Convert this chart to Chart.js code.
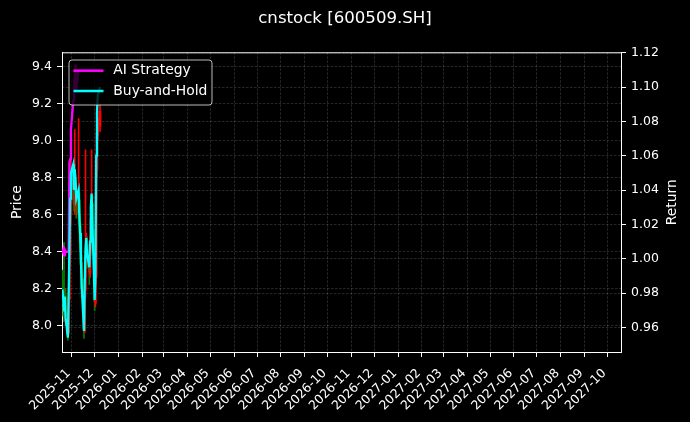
<!DOCTYPE html>
<html>
<head>
<meta charset="utf-8">
<script src="https://cdn.jsdelivr.net/npm/chart.js@4.4.1/dist/chart.umd.min.js"></script>
<style>
  html, body { margin: 0; padding: 0; background: #000; }
  #wrap { width: 690px; height: 422px; }
</style>
</head>
<body>
<div id="wrap"><canvas id="c" width="690" height="422"></canvas></div>
<script>
// ---- data ----
const dates = ['2025-10-20','2025-10-21','2025-10-22','2025-10-23','2025-10-24','2025-10-27','2025-10-28','2025-10-29','2025-10-30','2025-10-31',
  '2025-11-03','2025-11-04','2025-11-05','2025-11-06','2025-11-07','2025-11-10','2025-11-11','2025-11-12','2025-11-13','2025-11-14',
  '2025-11-17','2025-11-18','2025-11-19','2025-11-20','2025-11-21','2025-11-24','2025-11-25','2025-11-26','2025-11-27','2025-11-28',
  '2025-12-01','2025-12-02','2025-12-03','2025-12-04','2025-12-05','2025-12-08'];
const openP  = [8.24,8.19,8.12,8.07,8.16,8.04,7.96,8.14,8.38,8.60,8.74,8.80,8.65,8.77,8.70,8.60,8.68,8.55,8.46,8.34,8.21,7.97,8.19,8.36,8.44,8.37,8.28,8.40,8.57,8.66,8.49,8.12,8.26,8.84,9.03,9.08];
const highP  = [8.30,8.24,8.45,8.20,8.20,8.08,8.20,8.42,8.68,8.90,8.85,8.86,9.06,8.80,8.75,9.12,8.72,8.60,8.50,8.38,8.25,8.25,8.95,8.50,8.48,8.40,8.48,8.62,8.95,8.70,8.52,8.30,8.88,9.08,9.16,9.20];
const lowP   = [8.12,8.05,8.02,8.02,8.00,7.92,7.95,8.10,8.33,8.55,8.68,8.62,8.60,8.66,8.58,8.55,8.50,8.40,8.28,8.15,7.93,7.96,8.15,8.33,8.31,8.22,8.26,8.38,8.52,8.45,8.08,8.10,8.22,8.80,9.00,9.05];
const closeP = [8.18,8.13,8.08,8.15,8.05,7.95,8.15,8.37,8.62,8.75,8.79,8.66,8.76,8.71,8.62,8.66,8.54,8.45,8.33,8.20,7.98,8.20,8.37,8.43,8.36,8.29,8.41,8.58,8.65,8.50,8.13,8.25,8.83,9.04,9.12,9.16];
const aiStrategy = [1.003,1.005,1.002,1.005,1.004,1.004,1.005,1.056,1.058,1.075,1.092,1.100,1.108,1.113,1.098,1.110,1.110,1.110,1.110,1.110,
  1.110,1.110,1.110,1.110,1.110,1.110,1.110,1.110,1.110,1.110,1.110,1.110,1.110,1.110,1.110,1.110];
const buyHold = [0.982,0.976,0.970,0.978,0.966,0.954,0.978,1.005,1.035,1.050,1.055,1.040,1.052,1.046,1.035,1.040,1.025,1.015,1.000,0.985,
  0.958,0.985,1.005,1.012,1.003,0.995,1.010,1.030,1.038,1.020,0.976,0.990,1.060,1.085,1.095,1.100];
const monthTicks = ['2025-11','2025-12','2026-01','2026-02','2026-03','2026-04','2026-05','2026-06','2026-07','2026-08','2026-09','2026-10',
  '2026-11','2026-12','2027-01','2027-02','2027-03','2027-04','2027-05','2027-06','2027-07','2027-08','2027-09','2027-10'];
const priceTicks = [8.0,8.2,8.4,8.6,8.8,9.0,9.2,9.4];
const returnTicks = [0.96,0.98,1.00,1.02,1.04,1.06,1.08,1.10,1.12];

// ---- helpers ----
const FONT = '"DejaVu Sans", sans-serif';
const dayNum = s => Date.parse(s + 'T00:00:00Z') / 864e5;
const xMin = dayNum('2025-11-01') - 12.66;
const xMax = dayNum('2025-11-01') + 716.9;
const candleColors = openP.map((o, i) => closeP[i] >= o ? '#ff0000' : '#008000');
const gridColor = 'rgba(200,200,200,0.33)';

const commonGrid = { color: gridColor, lineWidth: 0.6, offset: false, tickColor: '#ffffff', tickLength: 5, tickWidth: 1 };
const commonBorder = { color: '#ffffff', width: 1, dash: [2.5, 1.5] };
const tickFont = { family: FONT, size: 12.5 };

const decor = {
  id: 'decor',
  beforeDraw(chart) {
    const c = chart.ctx;
    c.save();
    c.fillStyle = '#000';
    c.fillRect(0, 0, chart.width, chart.height);
    c.restore();
  },
  afterDraw(chart) {
    const c = chart.ctx;
    const a = chart.chartArea;
    c.save();
    // top spine
    c.strokeStyle = '#fff';
    c.lineWidth = 1;
    c.beginPath();
    c.moveTo(a.left, a.top + 0.5);
    c.lineTo(a.right, a.top + 0.5);
    c.stroke();
    // right axis title
    c.fillStyle = '#fff';
    c.font = '13.9px ' + FONT;
    c.textAlign = 'center';
    c.textBaseline = 'middle';
    c.translate(672.5, (a.top + a.bottom) / 2);
    c.rotate(-Math.PI / 2);
    c.fillText('Return', 0, 0);
    c.restore();

    // legend
    c.save();
    const bx = 69, by = 60, bw = 143, bh = 45, r = 3;
    c.beginPath();
    c.moveTo(bx + r, by);
    c.lineTo(bx + bw - r, by);
    c.quadraticCurveTo(bx + bw, by, bx + bw, by + r);
    c.lineTo(bx + bw, by + bh - r);
    c.quadraticCurveTo(bx + bw, by + bh, bx + bw - r, by + bh);
    c.lineTo(bx + r, by + bh);
    c.quadraticCurveTo(bx, by + bh, bx, by + bh - r);
    c.lineTo(bx, by + r);
    c.quadraticCurveTo(bx, by, bx + r, by);
    c.closePath();
    c.fillStyle = 'rgba(0,0,0,0.8)';
    c.fill();
    c.strokeStyle = 'rgba(220,220,220,0.85)';
    c.lineWidth = 1;
    c.stroke();
    const items = chart.data.datasets.filter(d => d.type === 'line').slice().reverse();
    items.forEach((d, i) => {
      const y = i === 0 ? 70.7 : 91;
      c.strokeStyle = d.borderColor;
      c.lineWidth = 2.5;
      c.beginPath();
      c.moveTo(73.5, y);
      c.lineTo(103.5, y);
      c.stroke();
      c.fillStyle = '#fff';
      c.font = '13.9px ' + FONT;
      c.textAlign = 'left';
      c.textBaseline = 'middle';
      c.fillText(d.label, 113.3, y);
    });
    c.restore();
  }
};

new Chart(document.getElementById('c'), {
  type: 'line',
  data: {
    datasets: [
      { type: 'line', label: 'Buy-and-Hold', data: dates.map((d, i) => ({ x: dayNum(d), y: buyHold[i] })),
        yAxisID: 'y2', xAxisID: 'x', borderColor: '#00ffff', borderWidth: 2.3, pointRadius: 0, tension: 0, order: 0 },
      { type: 'line', label: 'AI Strategy', data: dates.map((d, i) => ({ x: dayNum(d), y: aiStrategy[i] })),
        yAxisID: 'y2', xAxisID: 'x', borderColor: '#ff00ff', borderWidth: 2.3, pointRadius: 0, tension: 0, order: 1 },
      { type: 'bar', label: 'body', data: dates.map((d, i) => ({ x: dayNum(d), y: [openP[i], closeP[i]] })),
        yAxisID: 'y', xAxisID: 'x', backgroundColor: candleColors, barThickness: 2, grouped: false, minBarLength: 1, borderWidth: 0, order: 2 },
      { type: 'bar', label: 'wick', data: dates.map((d, i) => ({ x: dayNum(d), y: [lowP[i], highP[i]] })),
        yAxisID: 'y', xAxisID: 'x', backgroundColor: candleColors, barThickness: 1, grouped: false, borderWidth: 0, order: 3 }
    ]
  },
  options: {
    responsive: false,
    animation: false,
    devicePixelRatio: 1,
    layout: { padding: 0 },
    plugins: {
      legend: { display: false },
      tooltip: { enabled: false },
      title: { display: true, text: 'cnstock [600509.SH]', color: '#fff',
        font: { family: FONT, size: 16.6, weight: 'normal' }, padding: { top: 9, bottom: 23.4 } }
    },
    scales: {
      x: {
        type: 'linear', position: 'bottom', min: xMin, max: xMax, offset: false,
        afterBuildTicks: s => { s.ticks = monthTicks.map(m => ({ value: dayNum(m + '-01') })); },
        ticks: { autoSkip: false, maxRotation: 45, minRotation: 45, color: '#fff', font: tickFont, padding: 9, labelOffset: -3,
          callback: (v, i) => monthTicks[i] },
        grid: commonGrid, border: commonBorder,
        afterFit: s => { s.height = 70; }
      },
      y: {
        type: 'linear', position: 'left', min: 7.856, max: 9.478,
        afterBuildTicks: s => { s.ticks = priceTicks.map(v => ({ value: v })); },
        ticks: { color: '#fff', font: tickFont, padding: 5, callback: v => Number(v).toFixed(1) },
        grid: commonGrid, border: commonBorder,
        title: { display: true, text: 'Price', color: '#fff', font: { family: FONT, size: 13.9 }, padding: { top: 8.7, bottom: 0 } },
        afterFit: s => { s.width = 62; }
      },
      y2: {
        type: 'linear', position: 'right', min: 0.9457, max: 1.1202,
        afterBuildTicks: s => { s.ticks = returnTicks.map(v => ({ value: v })); },
        ticks: { color: '#fff', font: tickFont, padding: 5, callback: v => Number(v).toFixed(2) },
        grid: commonGrid, border: commonBorder,
        afterFit: s => { s.width = 69; }
      }
    }
  },
  plugins: [decor]
});
</script>
</body>
</html>
